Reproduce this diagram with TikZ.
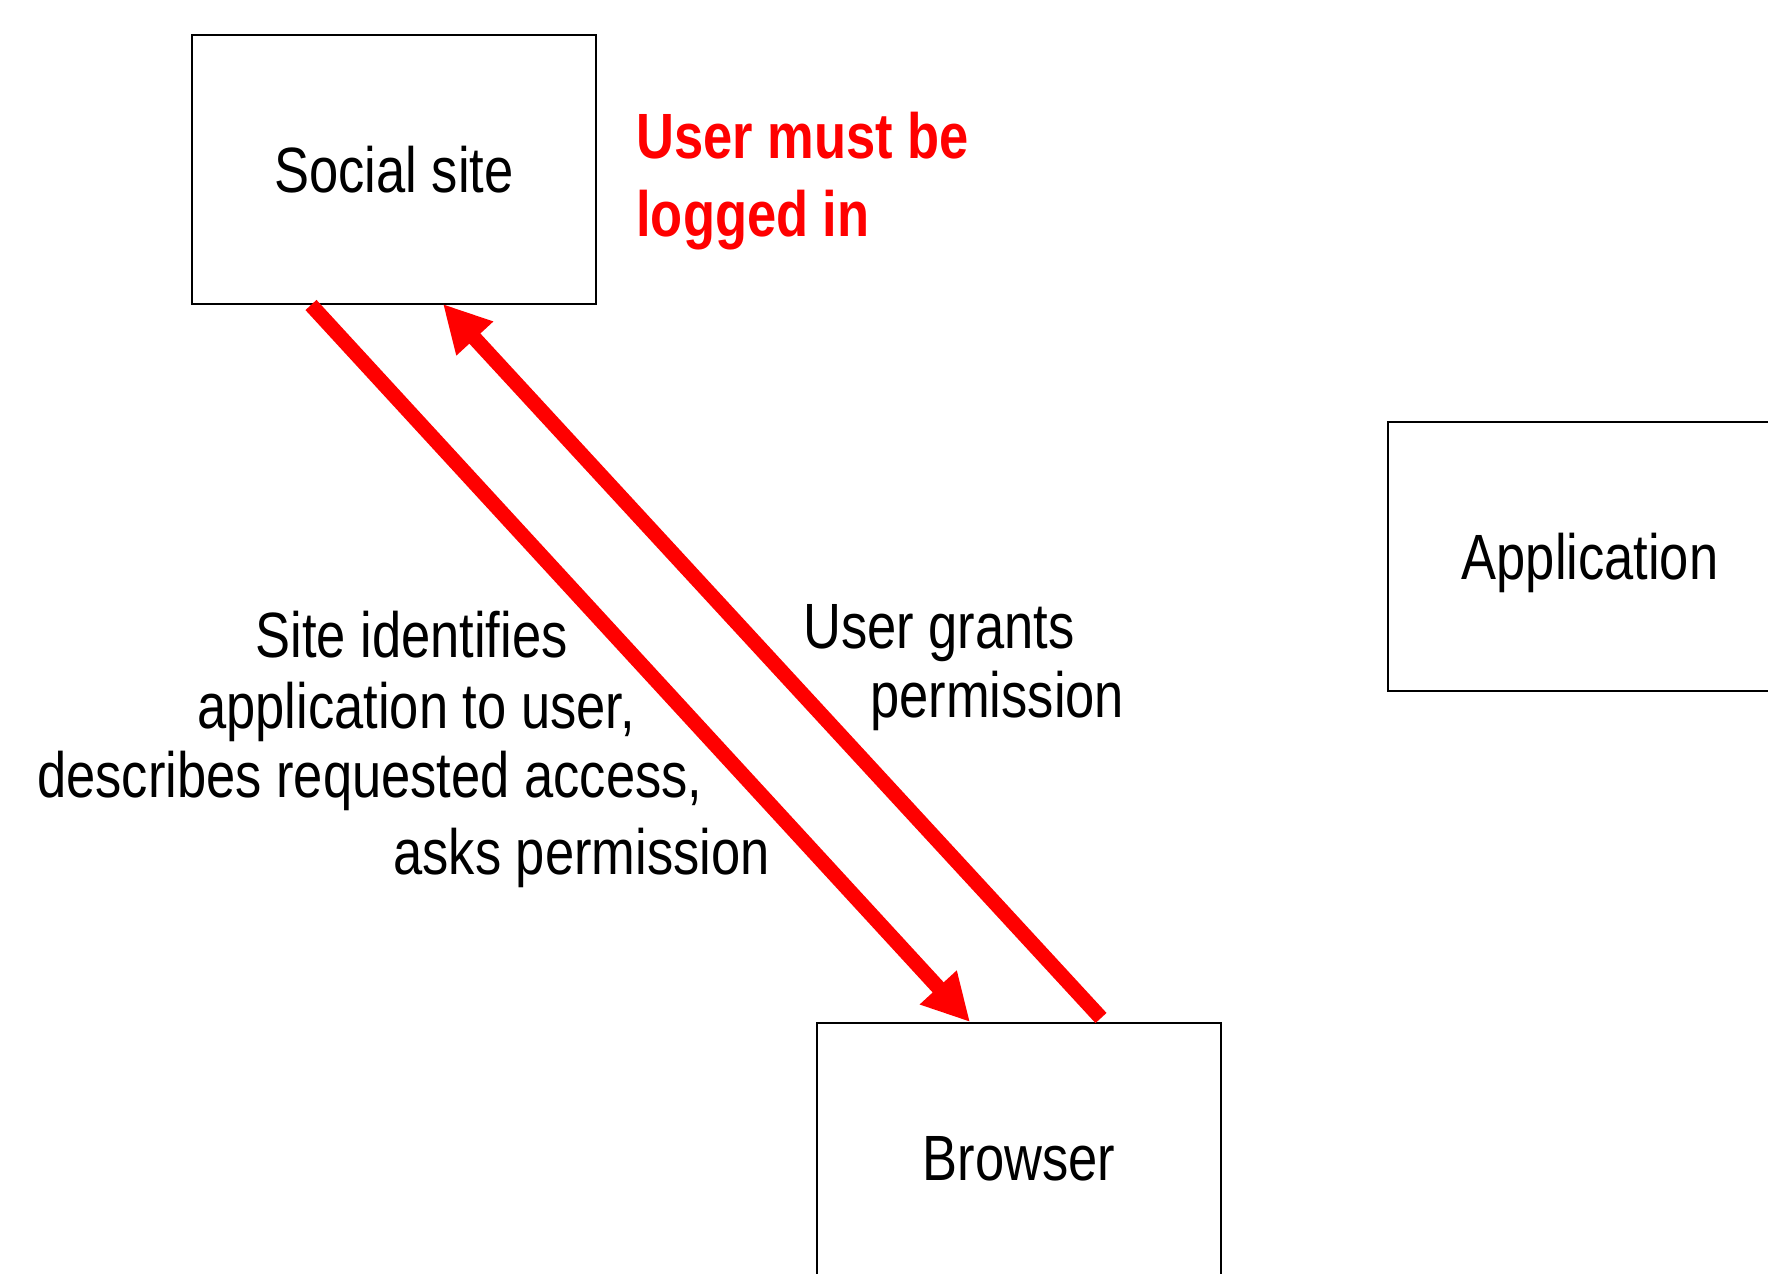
\documentclass[tikz,border=0pt]{standalone}
\usepackage{fontspec}
\setmainfont{Liberation Sans}[FakeStretch=0.82]
\usetikzlibrary{arrows.meta}
\tikzset{
  box/.style={draw=black, line width=1pt, minimum width=202pt, minimum height=134.5pt,
    inner sep=0pt, text height=23pt, text depth=0pt, font=\fontsize{32}{38}\selectfont},
  lbl/.style={anchor=base west, inner sep=0pt, font=\fontsize{32}{38}\selectfont},
  redlbl/.style={lbl, text=red, font=\fontsize{32}{38}\selectfont\bfseries},
  flow/.style={draw=red, line width=7.5pt, line cap=butt,
    -{Triangle[length=23.5pt, width=23.5pt]}}
}
\begin{document}
\begin{tikzpicture}[x=0.5pt, y=-0.5pt]
\useasboundingbox (0,0) rectangle (1768,1274);
\node[box] (social) at (394,169.5) {Social site};
\node[box] (app) at (1590,556.5) {Application};
\node[box] (browser) at (1019,1157.5) {Browser};

\node[redlbl] (must1) at (636,158) {User must be};
\node[redlbl] (must2) at (636,236) {logged in};

\node[lbl] (ask1) at (255,657) {Site identifies};
\node[lbl] (ask2) at (197,728) {application to user,};
\node[lbl] (ask3) at (37,797) {describes requested access,};
\node[lbl] (ask4) at (393,874) {asks permission};

\node[lbl] (grant1) at (803,648) {User grants};
\node[lbl] (grant2) at (870,717) {permission};

\draw[flow] ([xshift=60pt]social.south west) -- ([xshift=77pt]browser.north west);
\draw[flow] ([xshift=142.5pt,yshift=2pt]browser.north west) -- ([xshift=126pt,yshift=0.5pt]social.south west);
\end{tikzpicture}
\end{document}
